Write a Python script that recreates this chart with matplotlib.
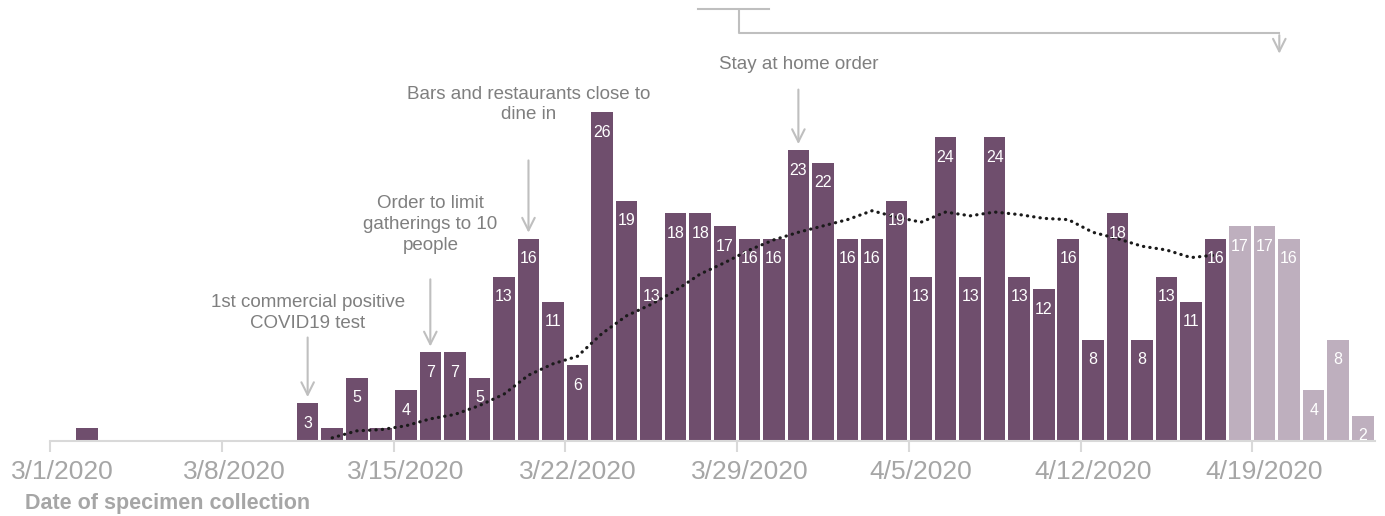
#!/usr/bin/env python3
#
# Daily positive specimens by date of collection, with a dotted trend
# line and a few policy annotations. Last six days are drawn lighter
# because reporting for them is still incomplete.

import numpy as np
import matplotlib as mpl
mpl.use('agg')
import matplotlib.pyplot as plt
from matplotlib import font_manager

# Data: one value per day, starting 3/1/2020.

cases = [0, 1, 0, 0, 0, 0, 0, 0, 0, 0,
         3, 1, 5, 1, 4, 7, 7, 5, 13, 16,
         11, 6, 26, 19, 13, 18, 18, 17, 16, 16,
         23, 22, 16, 16, 19, 13, 24, 13, 24, 13,
         12, 16, 8, 18, 8, 13, 11, 16, 17, 17,
         16, 4, 8, 2]
n_complete = 48          # days from 4/18 on are incomplete

trend_start = 11         # 3/12/2020
trend = [0.25, 0.8, 0.9, 1.2, 1.75, 2.1, 2.8, 3.7, 5.2, 6.1,
         6.7, 8.5, 9.9, 10.8, 11.9, 13.2, 14.1, 15.1, 15.9, 16.5,
         17.0, 17.5, 18.2, 17.7, 17.3, 18.1, 17.8, 18.1, 17.9, 17.6,
         17.5, 16.5, 16.0, 15.4, 15.1, 14.5, 14.7]

tick_labels = ['3/1/2020', '3/8/2020', '3/15/2020', '3/22/2020',
               '3/29/2020', '4/5/2020', '4/12/2020', '4/19/2020']

events = [(10, '1st commercial positive\nCOVID19 test', 10.1, 8.4),
          (15, 'Order to limit\ngatherings to 10\npeople', 17.1, 13.0),
          (19, 'Bars and restaurants close to\ndine in', 26.6, 22.4),
          (30, 'Stay at home order', 29.8, 28.0)]

dark = '#6f4e6d'
light = '#beafbe'
grey_txt = '#7f7f7f'
grey_tick = '#a6a6a6'
grey_line = '#d9d9d9'
grey_arrow = '#bfbfbf'

names = {f.name for f in font_manager.fontManager.ttflist}
regular = 'Liberation Sans' if 'Liberation Sans' in names else 'DejaVu Sans'
narrow = 'Liberation Sans Narrow' if 'Liberation Sans Narrow' in names else regular
plt.rcParams['font.family'] = [regular, 'DejaVu Sans']

px_per_unit = 12.65
fig = plt.figure(figsize=(13.85, 5.16), dpi=100)
ax = fig.add_axes([50/1385, 75/516, 1325/1385, 441/516])

x = np.arange(len(cases))
colors = [dark if i < n_complete else light for i in x]
ax.bar(x, cases, width=0.88, color=colors, zorder=2)

for i, v in enumerate(cases):
    if v >= 2:
        ax.annotate(str(v), (i, v), xytext=(0, -14.5), textcoords='offset points',
                    ha='center', va='center', color='white', fontsize=11.5, zorder=4)

tx = np.arange(trend_start, trend_start + len(trend))
ax.plot(tx, trend, color='#1a1a1a', lw=2.3, linestyle=(0, (0.1, 1.9)),
        dash_capstyle='round', zorder=3)

for i, text, ty, tail in events:
    ax.text(i, ty, text, ha='center', va='center', fontsize=13.5,
            color=grey_txt, linespacing=1.3)
    ax.annotate('', xy=(i, cases[i] + 0.25), xytext=(i, tail),
                arrowprops=dict(arrowstyle='->,head_length=0.9,head_width=0.45',
                                color=grey_arrow, lw=1.5))

# Bracket pointing at the incomplete period.
ax.plot([25.9, 28.8], [34.15, 34.15], color=grey_arrow, lw=1.5, clip_on=False)
ax.plot([27.6, 27.6, 49.6], [34.1, 32.25, 32.25], color=grey_arrow, lw=1.5,
        clip_on=False)
ax.annotate('', xy=(49.6, 30.4), xytext=(49.6, 32.3),
            arrowprops=dict(arrowstyle='->,head_length=0.9,head_width=0.45',
                            color=grey_arrow, lw=1.5))

ax.set_xlim(-0.5, len(cases) - 0.5)
ax.set_ylim(0, 441 / px_per_unit)
for s in ['left', 'right', 'top']:
    ax.spines[s].set_visible(False)
ax.spines['bottom'].set_color(grey_line)
ax.spines['bottom'].set_linewidth(1.5)
ax.set_yticks([])

ax.set_xticks(np.arange(-0.5, 49, 7))
ax.set_xticklabels([])
ax.set_xticks(np.arange(0, 50, 7), minor=True)
ax.set_xticklabels(tick_labels, minor=True)
ax.tick_params(axis='x', which='major', length=8, width=1.5, color=grey_line)
ax.tick_params(axis='x', which='minor', length=0, pad=14, labelsize=19,
               labelcolor=grey_tick)

fig.text(25/1385, 1 - 503/516, 'Date of specimen collection', family=narrow,
         fontsize=15.5, fontweight='bold', color=grey_tick, ha='left', va='center')

fig.savefig('out.png', dpi=100)
